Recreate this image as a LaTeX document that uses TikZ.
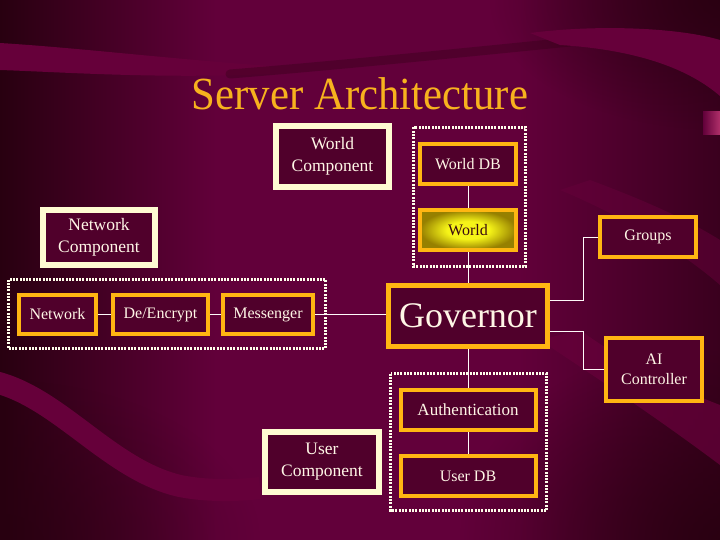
\documentclass[tikz,border=0pt]{standalone}
\usepackage{fontspec}
\setmainfont{Liberation Serif}
\newfontfamily\titlefont[FakeStretch=0.93]{Liberation Serif}
\usetikzlibrary{fadings}
\definecolor{bgmid}{HTML}{62003A}
\definecolor{bgdark}{HTML}{280010}
\definecolor{bgright}{HTML}{3A001E}
\definecolor{band}{HTML}{66003A}
\definecolor{dline}{HTML}{300014}
\definecolor{gold}{HTML}{FFB612}
\definecolor{cream}{HTML}{FFFBD2}
\definecolor{boxfill}{HTML}{50002B}
\definecolor{txt}{HTML}{FFF6E6}
\definecolor{titlec}{HTML}{F7B21E}
\definecolor{wyel}{HTML}{F6F418}
\definecolor{wolive}{HTML}{968000}
\definecolor{wtxt}{HTML}{3A0A10}
\definecolor{pinkbar}{HTML}{B0306A}
\pgfdeclarehorizontalshading{bgsh}{100bp}{color(0bp)=(bgdark); color(25bp)=(bgdark); color(40bp)=(bgmid); color(61bp)=(bgmid); color(75bp)=(bgright); color(100bp)=(bgright)}
\pgfdeclareradialshading{worldsh}{\pgfpoint{0bp}{0bp}}{color(0bp)=(wyel); color(11bp)=(wyel); color(25bp)=(wolive); color(50bp)=(wolive)}
\tikzfading[name=radfade, inner color=transparent!0, outer color=transparent!100]
\begin{document}
\begin{tikzpicture}[x=1pt,y=-1pt,
  box/.style={draw=gold, line width=4pt, fill=boxfill, text=txt,
    font=\fontsize{16}{20}\selectfont, inner sep=0pt, align=center},
  comp/.style={draw=cream, line width=6pt, fill=boxfill, text=txt,
    font=\fontsize{17.5}{22}\selectfont, inner sep=0pt, align=center},
  grp/.style={draw=white!92!yellow, line width=3pt, dash pattern=on 2pt off 1.3pt},
  conn/.style={draw=white!92!pink, line width=1pt}]
\useasboundingbox (0,0) rectangle (720,540);
% background
\begin{scope}
\clip (0,0) rectangle (720,540);
\shade[shading=bgsh] (0,0) rectangle (720,540);
\fill[bgdark, path fading=radfade, fill opacity=.85] (720,0) ellipse [x radius=230, y radius=130];
\fill[bgdark, path fading=radfade, fill opacity=.9] (720,540) ellipse [x radius=260, y radius=200];
\fill[bgdark, path fading=radfade, fill opacity=.6] (0,540) ellipse [x radius=260, y radius=160];
\fill[band] (0,43) .. controls (80,48) and (160,58) .. (270,66)
  -- (270,74) .. controls (160,79) and (60,72) .. (0,70) -- cycle;
\draw[dline, line width=9pt, opacity=.35, line cap=round] (230,74) .. controls (330,66) and (450,54) .. (570,42);
\fill[band] (530,33) .. controls (600,24) and (680,28) .. (720,40)
  -- (720,96) .. controls (690,70) and (640,50) .. (560,45) -- cycle;
\draw[band, line width=22pt] (-5,382) .. controls (60,398) and (110,470) .. (180,486) .. controls (205,491) and (235,491) .. (260,488);
\fill[band, opacity=.75] (540,340) .. controls (600,380) and (660,420) .. (720,465)
  -- (720,405) .. controls (680,390) and (620,360) .. (580,330) -- cycle;
\fill[band, opacity=.5] (560,190) .. controls (620,215) and (680,250) .. (720,285)
  -- (720,240) .. controls (680,215) and (630,195) .. (590,180) -- cycle;
\shade[left color=bgmid, right color=pinkbar] (703,112) rectangle (720,135);
\end{scope}
% title
\node[text=titlec, font=\titlefont\fontsize{46}{54}\selectfont] (title) at (360,94) {Server Architecture};
% groups
\draw[grp] (413.5,127.5) rectangle (525.5,266.5);
\draw[grp] (8.5,279.5) rectangle (325.5,348.5);
\draw[grp] (390.5,373.5) rectangle (546.5,510.5);
% component boxes
\node[comp, minimum width=113pt, minimum height=61pt] (wcomp) at (332.5,156.5) {World\\Component};
\node[comp, minimum width=112pt, minimum height=55pt] (ncomp) at (99,237.5) {Network\\Component};
\node[comp, minimum width=114pt, minimum height=60pt] (ucomp) at (322,462) {User\\Component};
% boxes
\node[box, minimum width=96pt, minimum height=40pt] (worlddb) at (468,164) {World DB};
\node[box, minimum width=96pt, minimum height=40pt, shade, shading=worldsh, text=wtxt] (world) at (468,230) {World};
\node[box, minimum width=96pt, minimum height=40pt] (groups) at (648,237) {Groups};
\node[box, minimum width=77pt, minimum height=39pt] (network) at (57.5,314.5) {Network};
\node[box, minimum width=95pt, minimum height=39pt] (denc) at (160.5,314.5) {De/Encrypt};
\node[box, minimum width=90pt, minimum height=39pt] (msg) at (268,314.5) {Messenger};
\node[box, line width=5pt, minimum width=159pt, minimum height=61pt, font=\fontsize{36}{42}\selectfont] (gov) at (468,316) {Governor};
\node[box, minimum width=96pt, minimum height=63pt] (ai) at (654,369.5) {AI\\Controller};
\node[box, minimum width=135pt, minimum height=40pt, font=\fontsize{17}{20}\selectfont] (auth) at (468,410) {Authentication};
\node[box, minimum width=135pt, minimum height=40pt] (udb) at (468,476) {User DB};
% connectors
\draw[conn] (worlddb) -- (world);
\draw[conn] (world) -- (gov);
\draw[conn] (gov) -- (auth);
\draw[conn] (auth) -- (udb);
\draw[conn] (network) -- (denc);
\draw[conn] (denc) -- (msg);
\draw[conn] (msg.east) -- (msg.east -| gov.west);
\draw[conn] ([yshift=16pt]gov.east) -- ++(33,0) |- (groups.west);
\draw[conn] ([yshift=-15pt]gov.east) -- ++(33,0) |- (ai.west);
\end{tikzpicture}
\end{document}
